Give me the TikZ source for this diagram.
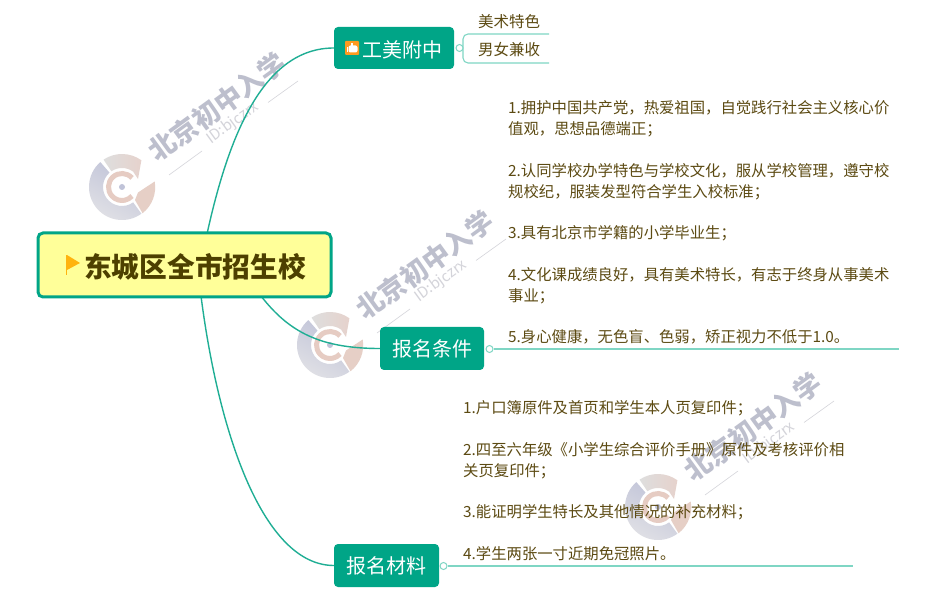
\documentclass[tikz,border=0pt]{standalone}
\usepackage{fontspec}
\setmainfont{Noto Sans CJK SC}
\definecolor{teal1}{HTML}{00A587}
\definecolor{conn}{HTML}{1FAE94}
\definecolor{lite}{HTML}{7FD6C4}
\definecolor{body}{HTML}{5C4A12}
\definecolor{wmt}{HTML}{BDBFCD}
\definecolor{wml}{HTML}{D4D4DA}
\definecolor{wmblue}{HTML}{C0C3D8}
\definecolor{wmgrey}{HTML}{E2E2E6}
\definecolor{wmtop}{HTML}{DEDEDE}
\definecolor{wmpink}{HTML}{E6D2CC}
\definecolor{wmred}{HTML}{E6CFC6}
\definecolor{wmring}{HTML}{E6CCC3}
\definecolor{rootfill}{HTML}{FFFF99}
\definecolor{roottext}{HTML}{4D4000}
\definecolor{flag}{HTML}{FFB30F}
\definecolor{iconc}{HTML}{FF9A1F}
\newcommand{\wmark}[2]{%
 \begin{scope}[shift={#1},y=1pt]
  \shade[top color=wmblue,bottom color=wmgrey,shading angle=-30]
    (131:33) arc[start angle=131,end angle=306,radius=33] -- (306:19) arc[start angle=306,end angle=131,radius=19] -- cycle;
  \shade[left color=wmtop,right color=wmpink]
    (124:33) arc[start angle=124,end angle=54,radius=33] -- (16,8) -- (54:19) arc[start angle=54,end angle=124,radius=19] -- cycle;
  \fill[wmred] (16,-5.5) -- (32.7,5.5) arc[start angle=10,end angle=-52,radius=33] -- (13,-13) -- cycle;
  \draw[wmring,line width=5pt] (42:13.5) arc[start angle=42,end angle=318,radius=13.5];
  \fill[wmblue] (0,0) circle[radius=3];
  \node[wmtext] (#2a) at (95,80) {北京初中入学};
  \node[idtext] (#2b) at (111,64) {ID:bjczrx};
  \draw[wml,line width=.6pt] (47,12) -- (80,36);
  \draw[wml,line width=.6pt] (146,84.5) -- (176,106);
 \end{scope}}
\tikzset{
 x=1pt,y=-1pt,
 wmtext/.style={rotate=36,text=wmt,font=\bfseries\fontsize{27}{27}\selectfont,inner sep=0pt},
 idtext/.style={rotate=36,text=wml,font=\fontsize{15}{15}\selectfont,inner sep=0pt},
 rootbox/.style={draw=teal1,line width=3pt,fill=rootfill,rounded corners=5pt,inner sep=0pt},
 branch/.style={fill=teal1,rounded corners=4pt,text=white,font=\fontsize{20}{22}\selectfont,inner sep=0pt},
 para/.style={anchor=north west,align=left,text=body,inner sep=0pt,font=\fontsize{15.35}{21}\selectfont},
 small/.style={text=body,inner sep=0pt,font=\fontsize{15.5}{18}\selectfont},
 conn1/.style={draw=conn,line width=1.4pt},
 lite1/.style={draw=lite,line width=1.1pt},
 dot/.style={circle,draw=lite,fill=white,line width=1pt,minimum size=7pt,inner sep=0pt},
}
\begin{document}
\begin{tikzpicture}
\useasboundingbox[fill=white] (0,0) rectangle (945,609);
\wmark{(122,187)}{wa}
\wmark{(330,345)}{wb}
\wmark{(658,507)}{wc}

\draw[conn1] (207,234) .. controls +(22,-100) and +(-70,0) .. (334,48);
\draw[conn1] (261,296) .. controls +(28,36) and +(-60,0) .. (380,348.5);
\draw[conn1] (201,296) .. controls +(18,140) and +(-70,0) .. (334,565.5);

\node[rootbox,minimum width=293pt,minimum height=64pt] (root) at (184.5,265) {};
\node[inner sep=0pt,anchor=west,text=roottext,font=\bfseries\fontsize{27.7}{30}\selectfont] (roott) at (84,267) {东城区全市招生校};
\node[branch,minimum width=120pt,minimum height=42pt] (n1) at (394,48) {};
\node[inner sep=0pt,anchor=west,text=white,font=\fontsize{20}{22}\selectfont] (n1t) at (362,50) {工美附中};
\node[branch,minimum width=104pt,minimum height=43pt] (n2) at (432,348.5) {\raisebox{-1pt}{报名条件}};
\node[branch,minimum width=105pt,minimum height=43pt] (n3) at (386.5,565.5) {\raisebox{-1pt}{报名材料}};

% flag
\fill[flag] (65.5,255) rectangle (67,275);
\fill[flag] (67,255) -- (80,263) -- (67,270) -- cycle;
% icon
\fill[iconc,rounded corners=1pt] (345,41) rectangle (359,55);
\fill[white,rounded corners=2pt] (348.5,45.5) rectangle (357.5,52.5);
\fill[white] (346.5,47) rectangle (348,52.5);
\fill[white] (351,43.5) rectangle (353,47);

\coordinate (e1a) at (549,34);
\coordinate (e1b) at (549,63);
\coordinate (e2) at (899,349);
\coordinate (e3) at (853,566);
\draw[lite1,rounded corners=5pt] (e1a) -- (463,34) -- (463,63) -- (e1b);
\node[dot] (d1) at (459.5,48) {};
\node[dot] (d2) at (489.5,349) {};
\node[dot] (d3) at (443.5,566) {};
\draw[lite1] (d2) -- (e2);
\draw[lite1] (d3) -- (e3);
\node[small] (s1) at (509,22) {美术特色};
\node[small] (s2) at (509,50) {男女兼收};

\node[para] (p1) at (508,100) {1.拥护中国共产党，热爱祖国，自觉践行社会主义核心价\\值观，思想品德端正；};
\node[para] (p2) at (508,163) {2.认同学校办学特色与学校文化，服从学校管理，遵守校\\规校纪，服装发型符合学生入校标准；};
\node[para] (p3) at (508,225) {3.具有北京市学籍的小学毕业生；};
\node[para] (p4) at (508,267) {4.文化课成绩良好，具有美术特长，有志于终身从事美术\\事业；};
\node[para] (p5) at (508,329) {5.身心健康，无色盲、色弱，矫正视力不低于1.0。};
\node[para] (q1) at (463,400) {1.户口簿原件及首页和学生本人页复印件；};
\node[para] (q2) at (463,442) {2.四至六年级《小学生综合评价手册》原件及考核评价相\\关页复印件；};
\node[para] (q3) at (463,504) {3.能证明学生特长及其他情况的补充材料；};
\node[para] (q4) at (463,546) {4.学生两张一寸近期免冠照片。};
\end{tikzpicture}
\end{document}
